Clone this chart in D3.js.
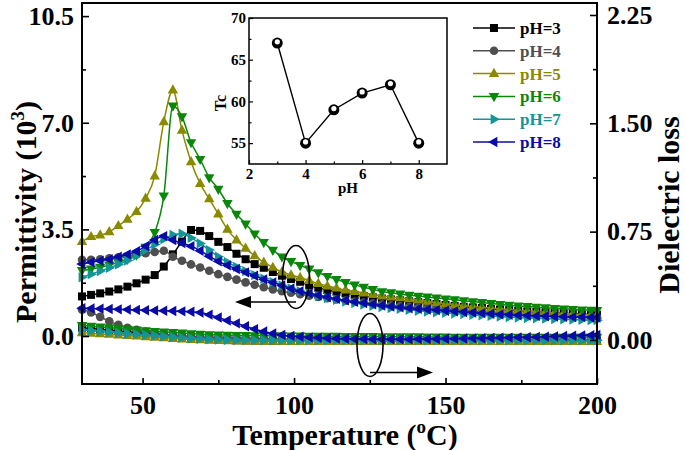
<!DOCTYPE html>
<html><head><meta charset="utf-8">
<script src="https://cdn.jsdelivr.net/npm/d3@7"></script>
<style>body{margin:0;background:#fff}svg{display:block}text{font-family:"Liberation Serif","Times New Roman",serif;font-weight:bold}</style>
</head><body><svg id="c" width="685" height="450"></svg>
<script>
// ---------------- DATA ----------------
const temps = [30,33,36,39,42,45,48,51,54,57,
  60,63,66,69,72,75,78,81,84,87,
  90,93,96,99,102,105,108,111,114,117,
  120,123,126,129,132,135,138,141,144,147,
  150,153,156,159,162,165,168,171,174,177,
  180,183,186,189,192,195,198,200];
const phLabels = ["pH=3","pH=4","pH=5","pH=6","pH=7","pH=8"];
// permittivity (10^3), left axis
const permPH3 = [1.30,1.35,1.40,1.46,1.53,1.62,1.73,1.85,2.00,2.28,
  2.68,3.10,3.48,3.45,3.28,3.09,2.92,2.70,2.52,2.36,
  2.24,2.10,1.98,1.87,1.78,1.66,1.58,1.51,1.45,1.40,
  1.35,1.31,1.27,1.23,1.20,1.17,1.14,1.11,1.08,1.05,
  1.02,0.99,0.96,0.94,0.92,0.89,0.87,0.85,0.83,0.81,
  0.79,0.78,0.76,0.75,0.73,0.72,0.71,0.70];
const permPH4 = [2.50,2.50,2.52,2.55,2.58,2.62,2.68,2.72,2.76,2.80,
  2.60,2.47,2.35,2.25,2.14,2.03,1.94,1.85,1.76,1.68,
  1.60,1.53,1.47,1.42,1.37,1.32,1.28,1.24,1.20,1.16,
  1.13,1.10,1.07,1.04,1.01,0.98,0.96,0.93,0.91,0.89,
  0.87,0.85,0.83,0.81,0.79,0.77,0.75,0.74,0.72,0.71,
  0.69,0.68,0.67,0.66,0.65,0.64,0.63,0.62];
const permPH5 = [3.10,3.26,3.31,3.42,3.62,3.83,4.08,4.52,5.25,7.03,
  8.07,6.75,5.72,5.00,4.50,4.00,3.50,3.15,2.88,2.63,
  2.42,2.25,2.10,2.00,1.92,1.82,1.72,1.64,1.57,1.51,
  1.46,1.41,1.36,1.31,1.28,1.25,1.22,1.18,1.14,1.10,
  1.06,1.03,1.00,0.97,0.94,0.92,0.89,0.87,0.84,0.82,
  0.80,0.78,0.76,0.74,0.72,0.70,0.69,0.68];
const permPH6 = [2.15,2.20,2.26,2.33,2.42,2.52,2.66,2.92,3.40,4.60,
  7.55,7.20,6.35,5.80,5.20,4.82,4.35,4.00,3.68,3.35,
  3.07,2.82,2.60,2.45,2.32,2.20,2.08,1.96,1.86,1.76,
  1.68,1.60,1.53,1.46,1.42,1.38,1.34,1.31,1.28,1.25,
  1.22,1.19,1.16,1.13,1.10,1.07,1.04,1.01,0.99,0.97,
  0.95,0.93,0.91,0.89,0.87,0.86,0.85,0.84];
const permPH7 = [1.93,2.03,2.13,2.24,2.35,2.48,2.64,2.82,3.00,3.18,
  3.32,3.36,3.22,3.04,2.82,2.60,2.42,2.27,2.13,2.00,
  1.88,1.77,1.66,1.56,1.47,1.39,1.31,1.25,1.19,1.13,
  1.08,1.03,0.99,0.95,0.92,0.89,0.86,0.83,0.80,0.78,
  0.76,0.74,0.72,0.70,0.68,0.66,0.64,0.62,0.61,0.59,
  0.58,0.57,0.56,0.55,0.54,0.53,0.52,0.52];
const permPH8 = [2.36,2.42,2.47,2.52,2.60,2.68,2.78,2.95,3.15,3.28,
  3.15,3.05,2.95,2.80,2.62,2.45,2.32,2.20,2.09,1.98,
  1.86,1.76,1.66,1.56,1.47,1.40,1.34,1.28,1.22,1.17,
  1.12,1.08,1.04,1.00,0.97,0.94,0.91,0.89,0.87,0.85,
  0.83,0.81,0.79,0.77,0.75,0.73,0.71,0.70,0.68,0.67,
  0.66,0.65,0.64,0.63,0.62,0.62,0.61,0.61];
// dielectric loss, right axis
const lossPH3 = [0.085,0.080,0.074,0.068,0.062,0.056,0.050,0.044,0.038,0.032,
  0.026,0.020,0.015,0.010,0.006,0.003,0.000,-0.002,-0.003,-0.004,
  -0.004,-0.005,-0.005,-0.005,-0.005,-0.005,-0.005,-0.005,-0.005,-0.005,
  -0.005,-0.005,-0.005,-0.005,-0.005,-0.005,-0.005,-0.005,-0.005,-0.005,
  -0.005,-0.005,-0.005,-0.005,-0.005,-0.005,-0.005,-0.005,-0.005,-0.005,
  -0.005,-0.005,-0.005,-0.005,-0.005,-0.005,-0.005,-0.005];
const lossPH4 = [0.210,0.190,0.160,0.130,0.105,0.085,0.070,0.058,0.048,0.040,
  0.034,0.029,0.025,0.021,0.018,0.015,0.013,0.011,0.010,0.009,
  0.008,0.007,0.007,0.006,0.006,0.005,0.005,0.005,0.004,0.004,
  0.004,0.004,0.004,0.004,0.004,0.004,0.004,0.004,0.003,0.003,
  0.003,0.003,0.003,0.003,0.003,0.003,0.003,0.003,0.003,0.003,
  0.003,0.003,0.003,0.003,0.003,0.003,0.003,0.003];
const lossPH5 = [0.050,0.046,0.042,0.038,0.034,0.030,0.026,0.022,0.018,0.014,
  0.010,0.006,0.003,0.000,-0.003,-0.005,-0.007,-0.008,-0.009,-0.010,
  -0.010,-0.010,-0.011,-0.011,-0.011,-0.011,-0.012,-0.012,-0.012,-0.012,
  -0.012,-0.012,-0.012,-0.012,-0.012,-0.012,-0.012,-0.012,-0.012,-0.012,
  -0.012,-0.012,-0.012,-0.012,-0.012,-0.012,-0.012,-0.012,-0.012,-0.012,
  -0.012,-0.012,-0.012,-0.012,-0.012,-0.012,-0.012,-0.012];
const lossPH6 = [0.100,0.095,0.090,0.085,0.080,0.075,0.070,0.065,0.060,0.056,
  0.052,0.048,0.044,0.040,0.037,0.035,0.033,0.032,0.031,0.030,
  0.030,0.029,0.029,0.028,0.028,0.027,0.027,0.026,0.026,0.025,
  0.025,0.024,0.024,0.023,0.023,0.022,0.022,0.022,0.021,0.021,
  0.021,0.020,0.020,0.020,0.020,0.020,0.020,0.020,0.020,0.020,
  0.020,0.020,0.020,0.020,0.020,0.020,0.020,0.020];
const lossPH7 = [0.070,0.065,0.060,0.055,0.050,0.045,0.040,0.035,0.030,0.025,
  0.020,0.016,0.012,0.008,0.005,0.003,0.001,0.000,-0.001,-0.002,
  -0.002,-0.002,-0.002,-0.003,-0.003,-0.003,-0.003,-0.003,-0.003,-0.003,
  -0.003,-0.003,-0.003,-0.003,-0.003,-0.003,-0.003,-0.003,-0.003,-0.003,
  -0.003,-0.003,-0.003,-0.003,-0.003,-0.003,-0.003,-0.003,-0.003,-0.003,
  -0.003,-0.003,-0.003,-0.003,-0.003,-0.003,-0.003,-0.003];
const lossPH8 = [0.220,0.218,0.216,0.214,0.212,0.210,0.208,0.206,0.204,0.202,
  0.200,0.198,0.195,0.190,0.175,0.155,0.135,0.115,0.095,0.075,
  0.058,0.045,0.035,0.028,0.022,0.018,0.015,0.012,0.010,0.008,
  0.007,0.006,0.005,0.005,0.005,0.005,0.005,0.006,0.006,0.007,
  0.008,0.009,0.010,0.011,0.012,0.013,0.015,0.016,0.018,0.019,
  0.021,0.023,0.025,0.027,0.029,0.031,0.033,0.035];
// inset: Curie temperature vs pH
const insetPH = [3,4,5,6,7,8];
const insetTc = [67,55,59,61,62,55];
// tick labels
const xTicks = [50,100,150,200];
const xMinor = [75,125,175];
const leftTicks = [0,3.5,7,10.5];
const leftMinor = [1.75,5.25,8.75];
const rightTicks = [0,0.75,1.5,2.25];
const rightMinor = [0.375,1.125,1.875];
const insetXTicks = [2,4,6,8];
const insetXMinor = [3,5,7];
const insetYTicks = [55,60,65,70];
const insetYMinor = [57.5,62.5,67.5];

const permSeries = [permPH3,permPH4,permPH5,permPH6,permPH7,permPH8];
const lossSeries = [lossPH3,lossPH4,lossPH5,lossPH6,lossPH7,lossPH8];
const colors = ["#000000","#4f4f4f","#8a8a00","#0a870a","#139595","#0a0aa8"];
const shapes = ["square","circle","up","down","right","left"];

// ---------------- DRAW ----------------
const svg = d3.select("#c");
const L=82, R=597, T=3, B=384;
const x = d3.scaleLinear().domain([30,200]).range([L,R]);
const yL = d3.scaleLinear().domain([-1.575,10.93]).range([B,T]);
const yR = d3.scaleLinear().domain([-0.305,2.333]).range([B,T]);
const FONT = "Liberation Serif";

function shapePath(s){
  switch(s){
    case "square": return "M-4,-4h8v8h-8Z";
    case "circle": return d3.symbol(d3.symbolCircle,58)();
    case "up": return "M0,-5.8L5.2,3.4L-5.2,3.4Z";
    case "down": return "M0,5.8L5.2,-3.4L-5.2,-3.4Z";
    case "right": return "M5.8,0L-3.4,5.2L-3.4,-5.2Z";
    case "left": return "M-5.8,0L3.4,5.2L3.4,-5.2Z";
  }
}

const gData = svg.append("g");
function drawSeries(vals, yScale, i){
  const pts = temps.map((t,k)=>[x(t), yScale(vals[k])]);
  const line = d3.line().curve(d3.curveMonotoneX);
  gData.append("path").attr("d", line(pts)).attr("fill","none")
    .attr("stroke",colors[i]).attr("stroke-width",1.5);
  gData.append("g").selectAll("path").data(pts).join("path")
    .attr("d",shapePath(shapes[i]))
    .attr("transform",d=>`translate(${d[0]},${d[1]})`)
    .attr("fill",colors[i]);
}
for(let i=0;i<6;i++){
  drawSeries(lossSeries[i], yR, i);
  drawSeries(permSeries[i], yL, i);
}

// frame
svg.append("rect").attr("x",L).attr("y",T).attr("width",R-L).attr("height",B-T)
  .attr("fill","none").attr("stroke","#000").attr("stroke-width",2);

// axes
function styleAxis(g){ g.select(".domain").remove(); g.selectAll("line").attr("stroke","#000").attr("stroke-width",1.6); }
function styleText(size){ return g=>g.selectAll("text").attr("font-size",size).attr("fill","#000").attr("font-family",FONT).attr("font-weight","bold"); }
svg.append("g").attr("transform",`translate(0,${B})`)
  .call(d3.axisBottom(x).tickValues(xTicks).tickSize(-6).tickPadding(12).tickFormat(d3.format("d")))
  .call(styleAxis).call(styleText(26));
svg.append("g").attr("transform",`translate(0,${B})`)
  .call(d3.axisBottom(x).tickValues(xMinor).tickSize(-4).tickFormat(""))
  .call(styleAxis);
svg.append("g").attr("transform",`translate(${L},0)`)
  .call(d3.axisLeft(yL).tickValues(leftTicks).tickSize(-7).tickPadding(8).tickFormat(d3.format(".1f")))
  .call(styleAxis).call(styleText(26));
svg.append("g").attr("transform",`translate(${L},0)`)
  .call(d3.axisLeft(yL).tickValues(leftMinor).tickSize(-4).tickFormat(""))
  .call(styleAxis);
svg.append("g").attr("transform",`translate(${R},0)`)
  .call(d3.axisRight(yR).tickValues(rightTicks).tickSize(-7).tickPadding(10).tickFormat(d3.format(".2f")))
  .call(styleAxis).call(styleText(26));
svg.append("g").attr("transform",`translate(${R},0)`)
  .call(d3.axisRight(yR).tickValues(rightMinor).tickSize(-4).tickFormat(""))
  .call(styleAxis);

// axis titles
const tY = svg.append("text").attr("transform","translate(36,212) rotate(-90)")
  .attr("text-anchor","middle").attr("font-size",30).attr("fill","#000");
tY.append("tspan").text("Permittivity (10");
tY.append("tspan").attr("font-size",19).attr("dy",-12).text("3");
tY.append("tspan").attr("dy",12).text(")");
svg.append("text").attr("transform","translate(679,205) rotate(-90)")
  .attr("text-anchor","middle").attr("font-size",30).attr("fill","#000").text("Dielectric loss");
const tX = svg.append("text").attr("x",345).attr("y",445).attr("text-anchor","middle")
  .attr("font-size",30).attr("fill","#000");
tX.append("tspan").text("Temperature (");
tX.append("tspan").attr("font-size",19).attr("dy",-12).text("o");
tX.append("tspan").attr("dy",12).text("C)");

// annotations
const ann = svg.append("g").attr("fill","none").attr("stroke","#000").attr("stroke-width",1.6);
ann.append("ellipse").attr("cx",296).attr("cy",277).attr("rx",13.5).attr("ry",31.5);
ann.append("ellipse").attr("cx",370).attr("cy",345).attr("rx",13).attr("ry",31.5);
ann.append("line").attr("x1",296).attr("y1",302).attr("x2",250).attr("y2",302);
svg.append("path").attr("d","M235,302L251,296L251,308Z").attr("fill","#000");
ann.append("line").attr("x1",370).attr("y1",372.5).attr("x2",418).attr("y2",372.5);
svg.append("path").attr("d","M433,372.5L417,366.5L417,378.5Z").attr("fill","#000");

// legend
const leg = svg.append("g");
phLabels.forEach((lab,i)=>{
  const yy = 28 + i*22.8;
  leg.append("line").attr("x1",473).attr("x2",515).attr("y1",yy).attr("y2",yy)
    .attr("stroke",colors[i]).attr("stroke-width",1.5);
  leg.append("path").attr("d",shapePath(shapes[i])).attr("transform",`translate(494,${yy})`).attr("fill",colors[i]);
  leg.append("text").attr("x",520).attr("y",yy+6).attr("font-size",17).attr("fill",colors[i]).text(lab);
});

// inset
const iL=249, iR=447, iT=18, iB=164;
const ix = d3.scaleLinear().domain([2,9]).range([iL,iR]);
const iy = d3.scaleLinear().domain([52.5,70]).range([iB,iT]);
const ins = svg.append("g");
ins.append("rect").attr("x",iL).attr("y",iT).attr("width",iR-iL).attr("height",iB-iT)
  .attr("fill","#fff").attr("stroke","#000").attr("stroke-width",1.5);
ins.append("g").attr("transform",`translate(0,${iB})`)
  .call(d3.axisBottom(ix).tickValues(insetXTicks).tickSize(-4).tickPadding(4).tickFormat(d3.format("d")))
  .call(styleAxis).call(styleText(15));
ins.append("g").attr("transform",`translate(0,${iB})`)
  .call(d3.axisBottom(ix).tickValues(insetXMinor).tickSize(-2.5).tickFormat("")).call(styleAxis);
ins.append("g").attr("transform",`translate(${iL},0)`)
  .call(d3.axisLeft(iy).tickValues(insetYTicks).tickSize(-4).tickPadding(3).tickFormat(d3.format("d")))
  .call(styleAxis).call(styleText(15));
ins.append("g").attr("transform",`translate(${iL},0)`)
  .call(d3.axisLeft(iy).tickValues(insetYMinor).tickSize(-2.5).tickFormat("")).call(styleAxis);
ins.selectAll(".tick line").attr("stroke-width",1.2);
ins.append("path").attr("d",d3.line()(insetPH.map((p,k)=>[ix(p),iy(insetTc[k])])))
  .attr("fill","none").attr("stroke","#000").attr("stroke-width",1.4);
const balls = ins.append("g").selectAll("g").data(insetPH.map((p,k)=>[ix(p),iy(insetTc[k])])).join("g")
  .attr("transform",d=>`translate(${d[0]},${d[1]})`);
balls.append("circle").attr("r",5.5).attr("fill","#000");
balls.append("circle").attr("r",2.6).attr("cy",-1.2).attr("fill","#fff");
ins.append("text").attr("transform","translate(226,103) rotate(-90)").attr("text-anchor","middle")
  .attr("font-size",16).attr("fill","#000").text("Tc");
ins.append("text").attr("x",348).attr("y",193).attr("text-anchor","middle")
  .attr("font-size",15).attr("fill","#000").text("pH");
</script></body></html>
